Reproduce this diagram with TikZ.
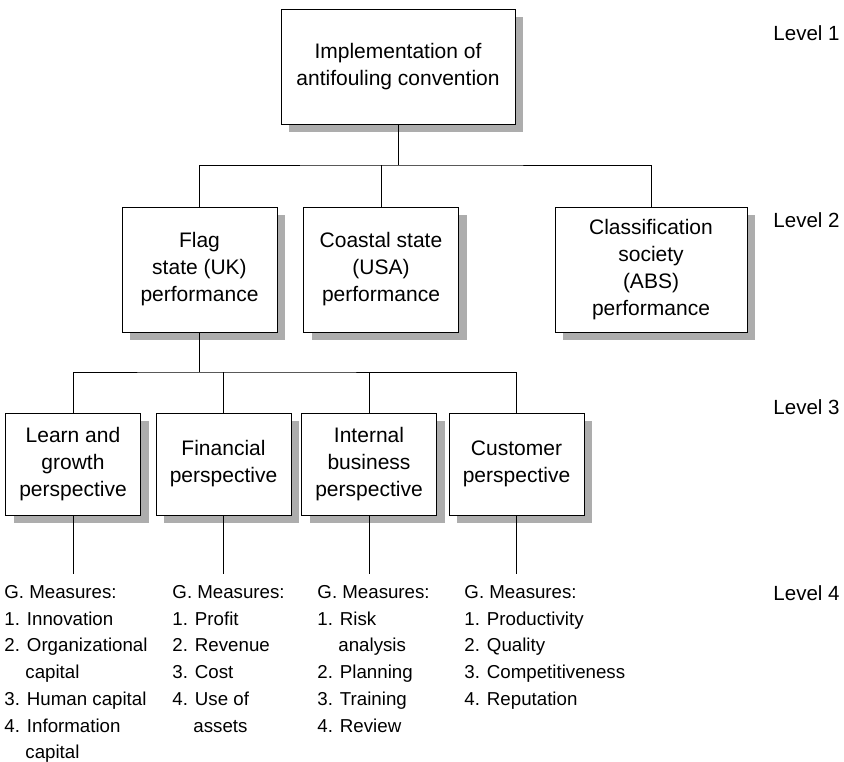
\documentclass[tikz,border=0pt]{standalone}
\usepackage{fontspec}
\setmainfont{Liberation Sans}
\usetikzlibrary{shadows}
\tikzset{
  box/.style={draw,fill=white,line width=0.9pt,align=center,inner sep=0pt,
    minimum height=102pt,minimum width=135pt,font=\fontsize{21}{27}\selectfont,
    drop shadow={shadow xshift=8pt,shadow yshift=-8pt,fill=black!32,opacity=1}},
  measures/.style={anchor=north west,align=left,inner sep=0pt,font=\fontsize{18.7}{26.7}\selectfont},
  level/.style={anchor=west,inner sep=0pt,font=\fontsize{20.5}{26}\selectfont}
}
\newcommand{\ind}{\hspace*{21pt}}
\begin{document}
\begin{tikzpicture}[x=1pt,y=-1pt,line width=0.9pt]
      \useasboundingbox (0,0) rectangle (844,762);
      % level 1
      \node[box,minimum width=234pt,minimum height=115pt] (top) at (398,66.5) {Implementation of\\antifouling convention};
      % level 2
      \node[box,minimum width=155pt,minimum height=125pt] (flag) at (199.5,269.5) {Flag\\state (UK)\\performance};
      \node[box,minimum width=155pt,minimum height=125pt] (coast) at (381,269.5) {Coastal state\\(USA)\\performance};
      \node[box,minimum width=192pt,minimum height=125pt] (class) at (651,269.5) {Classification\\society\\(ABS)\\performance};
      % level 3
      \node[box] (learn) at (73,464) {Learn and\\growth\\perspective};
      \node[box] (fin) at (223.5,464) {Financial\\perspective};
      \node[box] (intl) at (369,464) {Internal\\business\\perspective};
      \node[box] (cust) at (516.5,464) {Customer\\perspective};
      % connectors
      \coordinate (bus1) at (398,165);
      \coordinate (bus2) at (199.5,372);
      \draw (top.south) -- (bus1);
      \draw (flag.north) |- (bus1) -| (class.north);
      \draw (coast.north) -- (coast.north |- bus1);
      \draw (flag.south) -- (bus2);
      \draw (learn.north) |- (bus2) -| (cust.north);
      \draw (fin.north) -- (fin.north |- bus2);
      \draw (intl.north) -- (intl.north |- bus2);
      \foreach \b in {learn,fin,intl,cust}
        \draw (\b.south) -- ++(0,59);
      % level 4
      \node[measures] (m1) at (4,585) {G. Measures:\\1. Innovation\\2. Organizational\\\ind capital\\3. Human capital\\4. Information\\\ind capital};
      \node[measures] (m2) at (172,585) {G. Measures:\\1. Profit\\2. Revenue\\3. Cost\\4. Use of\\\ind assets};
      \node[measures] (m3) at (317,585) {G. Measures:\\1. Risk\\\ind analysis\\2. Planning\\3. Training\\4. Review};
      \node[measures] (m4) at (464,585) {G. Measures:\\1. Productivity\\2. Quality\\3. Competitiveness\\4. Reputation};
      % levels
      \node[level] (l1) at (773,33) {Level 1};
      \node[level] (l2) at (773,220) {Level 2};
      \node[level] (l3) at (773,407) {Level 3};
      \node[level] (l4) at (773,593) {Level 4};
    \end{tikzpicture}
\end{document}
